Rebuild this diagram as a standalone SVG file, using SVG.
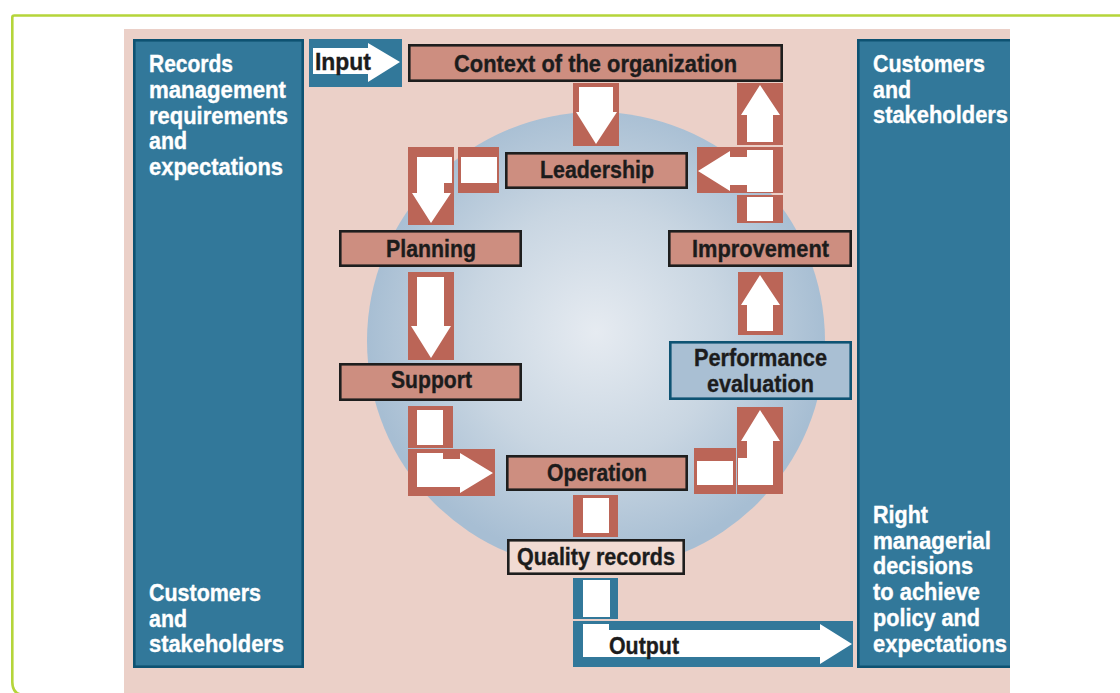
<svg xmlns="http://www.w3.org/2000/svg" width="1120" height="693" viewBox="0 0 1120 693">
<defs>
<radialGradient id="globe" cx="0.5" cy="0.48" r="0.5">
<stop offset="0" stop-color="#e6ebf1"/>
<stop offset="0.55" stop-color="#c9d6e2"/>
<stop offset="1" stop-color="#a7bed3"/>
</radialGradient>
</defs>
<style>
.txt{font-family:"Liberation Sans",Arial,sans-serif;font-weight:bold;font-size:23px}
.wt{fill:#ffffff;stroke:#ffffff;stroke-width:0.35}
.bk{fill:#1c1c1c;stroke:#1c1c1c;stroke-width:0.35}
.step{fill:#cd8e80;stroke:#1e1e1e;stroke-width:2.6}
.red{fill:#bb6557}
.blue{fill:#32789a}
.wh{fill:#ffffff}
.panel{fill:#32789a}
.pedge{fill:none;stroke:#0e5272;stroke-width:2.6}
</style>
<rect x="0" y="0" width="1120" height="693" fill="#ffffff"/>
<path d="M1125,15.5 H14.3 Q12.3,15.5 12.3,17.5 V682 Q12.3,695 25,695" fill="none" stroke="#b5d53a" stroke-width="2.6"/>
<rect x="124" y="29" width="886" height="664" fill="#ebd0c8"/>
<circle cx="596" cy="341" r="229" fill="url(#globe)"/>

<g id="left-panel">
<rect class="panel" x="133" y="39" width="171" height="629"/>
<rect class="pedge" x="134.3" y="40.3" width="168.4" height="626.4"/>
<text class="txt wt" x="149" y="72" textLength="84" lengthAdjust="spacingAndGlyphs">Records</text>
<text class="txt wt" x="149" y="98" textLength="137" lengthAdjust="spacingAndGlyphs">management</text>
<text class="txt wt" x="149" y="124" textLength="139" lengthAdjust="spacingAndGlyphs">requirements</text>
<text class="txt wt" x="149" y="149" textLength="38" lengthAdjust="spacingAndGlyphs">and</text>
<text class="txt wt" x="149" y="175" textLength="134" lengthAdjust="spacingAndGlyphs">expectations</text>
<text class="txt wt" x="149" y="601" textLength="112" lengthAdjust="spacingAndGlyphs">Customers</text>
<text class="txt wt" x="149" y="627" textLength="38" lengthAdjust="spacingAndGlyphs">and</text>
<text class="txt wt" x="149" y="652" textLength="135" lengthAdjust="spacingAndGlyphs">stakeholders</text>
</g>

<g id="right-panel">
<rect class="panel" x="857" y="39" width="153" height="629"/>
<path class="pedge" d="M1010,40.3 H858.3 V666.7 H1010"/>
<text class="txt wt" x="873" y="72" textLength="112" lengthAdjust="spacingAndGlyphs">Customers</text>
<text class="txt wt" x="873" y="98" textLength="38" lengthAdjust="spacingAndGlyphs">and</text>
<text class="txt wt" x="873" y="123" textLength="135" lengthAdjust="spacingAndGlyphs">stakeholders</text>
<text class="txt wt" x="873" y="523" textLength="55" lengthAdjust="spacingAndGlyphs">Right</text>
<text class="txt wt" x="873" y="549" textLength="118" lengthAdjust="spacingAndGlyphs">managerial</text>
<text class="txt wt" x="873" y="574" textLength="100" lengthAdjust="spacingAndGlyphs">decisions</text>
<text class="txt wt" x="873" y="600" textLength="107" lengthAdjust="spacingAndGlyphs">to achieve</text>
<text class="txt wt" x="873" y="626" textLength="107" lengthAdjust="spacingAndGlyphs">policy and</text>
<text class="txt wt" x="873" y="652" textLength="134" lengthAdjust="spacingAndGlyphs">expectations</text>
</g>

<g id="connectors">
<!-- Input -->
<rect class="blue" x="309" y="39" width="93" height="48"/>
<polygon class="wh" points="313,48 368,48 368,43 400,62 368,82 368,74 313,74"/>
<!-- Context -> Leadership -->
<rect class="red" x="573" y="83" width="46" height="63"/>
<polygon class="wh" points="579,87 613,87 613,112 617,112 596,144 576,112 579,112"/>
<!-- Leadership -> Planning -->
<rect class="red" x="458" y="147" width="41" height="46"/>
<rect class="wh" x="461" y="157" width="36" height="26"/>
<rect class="red" x="408" y="147" width="46" height="78"/>
<polygon class="wh" points="417,157 452,157 452,183 444,183 444,193 451,193 431,223 412,193 417,193"/>
<!-- Planning -> Support -->
<rect class="red" x="408" y="272" width="46" height="88"/>
<polygon class="wh" points="417,277 444,277 444,326 451,326 431,358 411,326 417,326"/>
<!-- Support -> Operation -->
<rect class="red" x="408" y="406" width="45" height="42"/>
<rect class="wh" x="417" y="410" width="26" height="35"/>
<rect class="red" x="408" y="449" width="87" height="47"/>
<polygon class="wh" points="417,453 443,453 443,459 460,459 460,453 493,473 460,493 460,487 417,487"/>
<!-- Operation -> Quality records -->
<rect class="red" x="573" y="495" width="45" height="42"/>
<rect class="wh" x="583" y="498" width="26" height="35"/>
<!-- Quality records -> Output -->
<rect class="blue" x="573" y="578" width="45" height="41"/>
<rect class="wh" x="583" y="580" width="27" height="37"/>
<rect class="blue" x="573" y="621" width="280" height="46"/>
<polygon class="wh" points="583,624 609,624 609,630 820,630 820,624 852,644 820,664 820,657 583,657"/>
<!-- Operation -> Performance evaluation -->
<rect class="red" x="694" y="448" width="42" height="46"/>
<rect class="wh" x="697" y="461" width="36" height="24"/>
<rect class="red" x="737" y="407" width="46" height="87"/>
<polygon class="wh" points="738,458 747,458 747,441 741,441 760,410 780,441 773,441 773,485 738,485"/>
<!-- Performance evaluation -> Improvement -->
<rect class="red" x="738" y="272" width="45" height="63"/>
<polygon class="wh" points="760,275 780,305 773,305 773,331 747,331 747,305 741,305"/>
<!-- Improvement -> Leadership / Context -->
<rect class="red" x="737" y="195" width="46" height="28"/>
<rect class="wh" x="747" y="197" width="26" height="24"/>
<rect class="red" x="697" y="147" width="86" height="46"/>
<polygon class="wh" points="698,171 730,151 730,157 747,157 747,150 773,150 773,192 747,192 747,185 730,185 730,191"/>
<rect class="red" x="737" y="83" width="46" height="62"/>
<polygon class="wh" points="760,85 780,115 773,115 773,142 747,142 747,115 741,115"/>
<text class="txt bk" x="315" y="70" textLength="56" lengthAdjust="spacingAndGlyphs">Input</text>
<text class="txt bk" x="609" y="654" textLength="70" lengthAdjust="spacingAndGlyphs">Output</text>
</g>

<g id="context">
<rect class="step" x="409.3" y="45.3" width="372.4" height="35.4"/>
<text class="txt bk" x="454" y="72" textLength="283" lengthAdjust="spacingAndGlyphs" font-size="24">Context of the organization</text>
</g>
<g id="leadership">
<rect class="step" x="506.3" y="153.3" width="180.4" height="34.4"/>
<text class="txt bk" x="540" y="178" textLength="114" lengthAdjust="spacingAndGlyphs" font-size="24">Leadership</text>
</g>
<g id="planning">
<rect class="step" x="340.3" y="231.3" width="180.4" height="34.4"/>
<text class="txt bk" x="386" y="257" textLength="90" lengthAdjust="spacingAndGlyphs" font-size="24">Planning</text>
</g>
<g id="improvement">
<rect class="step" x="669.3" y="231.3" width="181.4" height="34.4"/>
<text class="txt bk" x="692" y="257" textLength="137" lengthAdjust="spacingAndGlyphs" font-size="24">Improvement</text>
</g>
<g id="support">
<rect class="step" x="340.3" y="364.3" width="180.4" height="35.4"/>
<text class="txt bk" x="391" y="388" textLength="81" lengthAdjust="spacingAndGlyphs" font-size="24">Support</text>
</g>
<g id="performance">
<rect x="670.3" y="342.3" width="180.4" height="56.4" fill="#a9bfd3" stroke="#0e5373" stroke-width="2.6"/>
<text class="txt bk" x="694" y="366" textLength="133" lengthAdjust="spacingAndGlyphs">Performance</text>
<text class="txt bk" x="707" y="392" textLength="107" lengthAdjust="spacingAndGlyphs">evaluation</text>
</g>
<g id="operation">
<rect class="step" x="507.3" y="456.3" width="179.4" height="33.4"/>
<text class="txt bk" x="547" y="481" textLength="100" lengthAdjust="spacingAndGlyphs" font-size="24">Operation</text>
</g>
<g id="quality-records">
<rect x="508.3" y="540.3" width="175.4" height="33.4" fill="#f1dbd3" stroke="#1e1e1e" stroke-width="2.6"/>
<text class="txt bk" x="517" y="565" textLength="158" lengthAdjust="spacingAndGlyphs" font-size="24">Quality records</text>
</g>
</svg>
